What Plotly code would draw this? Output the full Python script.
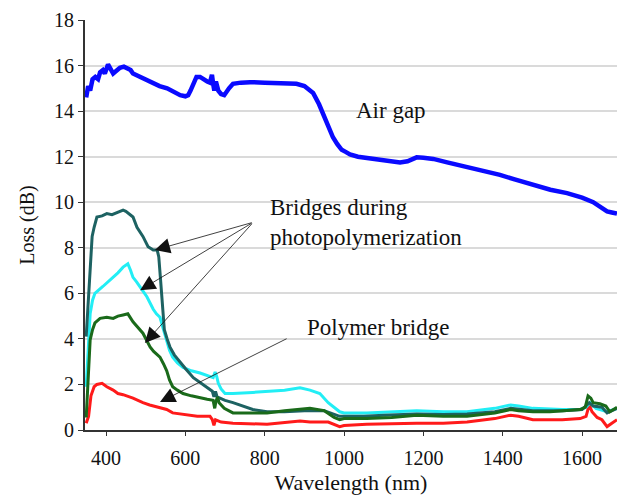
import plotly.graph_objects as go

# ---------------- data ----------------
air_wl = [350, 355, 360, 366, 373, 380, 385, 392, 397, 405, 418, 427, 435, 445, 453, 462, 468, 480, 491, 505,
          519, 535, 554, 570, 587, 600, 607, 613, 619, 628, 637, 648, 655, 662, 667, 670, 673, 677, 683, 690,
          698, 710, 720, 740, 763, 800, 846, 880, 900, 922, 937, 952, 962, 972, 983, 994, 1005, 1015, 1035, 1057,
          1080, 1098, 1120, 1141, 1160, 1183, 1200, 1225, 1260, 1310, 1350, 1393, 1430, 1476, 1520, 1562, 1600,
          1628, 1645, 1663, 1675, 1688]
air_loss = [14.6, 15.1, 14.9, 15.4, 15.5, 15.4, 15.7, 15.8, 15.65, 16.05, 15.65, 15.8, 15.9, 15.95, 15.9, 15.8,
            15.65, 15.55, 15.5, 15.35, 15.25, 15.1, 15.0, 14.85, 14.7, 14.65, 14.7, 14.9, 15.2, 15.5, 15.5, 15.35,
            15.3, 15.25, 15.6, 15.2, 14.9, 15.3, 14.9, 14.75, 14.7, 15.0, 15.2, 15.25, 15.27, 15.25, 15.2, 15.2,
            15.1, 14.8, 14.3, 13.7, 13.3, 12.85, 12.55, 12.3, 12.2, 12.1, 12.0, 11.95, 11.9, 11.85, 11.8, 11.75,
            11.8, 11.97, 11.95, 11.9, 11.75, 11.55, 11.35, 11.2, 11.0, 10.75, 10.55, 10.4, 10.2, 10.0, 9.8, 9.6,
            9.55, 9.5]

b1_wl = [350, 355, 360, 365, 370, 377, 390, 402, 415, 428, 443, 450, 458, 468, 478, 493, 506, 519, 529, 533,
         537, 541, 547, 554, 561, 572, 587, 600, 620, 640, 655, 668, 672, 676, 680, 700, 720, 745, 770, 806,
         850, 900, 950, 989, 1000, 1050, 1100, 1183, 1250, 1310, 1380, 1420, 1476, 1550, 1600, 1618, 1628,
         1650, 1663, 1675, 1688]
b1_loss = [4.1, 5.5, 7.0, 8.5, 8.9, 9.35, 9.4, 9.5, 9.45, 9.55, 9.65, 9.6, 9.5, 9.35, 8.9, 8.5, 8.05, 7.9, 7.9,
           7.6, 6.7, 5.8, 4.4, 4.0, 3.65, 3.3, 2.95, 2.7, 2.3, 2.05, 1.9, 1.7, 1.45, 1.7, 1.45, 1.3, 1.2, 1.05,
           0.9, 0.8, 0.8, 0.85, 0.85, 0.6, 0.6, 0.6, 0.65, 0.7, 0.68, 0.7, 0.8, 0.95, 0.85, 0.85, 0.9, 1.2, 1.05,
           1.0, 0.75, 0.85, 0.95]

b2_wl = [350, 355, 360, 366, 372, 392, 405, 418, 430, 443, 455, 462, 468, 477, 486, 495, 503, 511, 519, 527,
         536, 545, 553, 560, 568, 580, 594, 615, 637, 655, 670, 675, 679, 683, 690, 700, 720, 770, 850, 889,
         914, 939, 960, 989, 1000, 1057, 1120, 1183, 1250, 1310, 1380, 1420, 1440, 1476, 1550, 1595, 1610,
         1620, 1635, 1663, 1688]
b2_loss = [1.9, 3.5, 5.1, 5.7, 6.0, 6.3, 6.5, 6.7, 6.9, 7.15, 7.3, 7.0, 6.7, 6.5, 6.3, 6.05, 5.85, 5.55, 5.3,
           5.1, 4.95, 4.4, 3.95, 3.5, 3.2, 2.95, 2.75, 2.6, 2.5, 2.4, 2.3, 2.55, 2.35, 2.05, 1.8, 1.6, 1.6, 1.65,
           1.75, 1.85, 1.75, 1.6, 1.2, 0.8, 0.75, 0.75, 0.8, 0.85, 0.8, 0.8, 0.95, 1.1, 1.05, 0.95, 0.9, 0.9,
           1.0, 1.2, 0.95, 0.8, 0.95]

b3_wl = [350, 355, 360, 366, 372, 385, 402, 418, 430, 443, 455, 468, 480, 493, 502, 511, 520, 536, 545, 553,
         560, 568, 580, 594, 615, 637, 655, 670, 674, 677, 681, 685, 698, 720, 760, 806, 850, 889, 914, 950,
         975, 989, 1000, 1057, 1120, 1183, 1250, 1310, 1380, 1420, 1440, 1476, 1519, 1595, 1608, 1615, 1622,
         1628, 1645, 1660, 1670, 1688]
b3_loss = [0.55, 2.2, 3.95, 4.4, 4.7, 4.9, 4.95, 4.9, 5.0, 5.05, 5.1, 4.75, 4.5, 4.25, 3.95, 3.65, 3.45, 3.2,
           2.9, 2.6, 2.2, 1.9, 1.75, 1.6, 1.5, 1.4, 1.35, 1.3, 0.95, 1.25, 1.45, 1.2, 0.95, 0.75, 0.75, 0.75,
           0.85, 0.9, 0.95, 0.85, 0.55, 0.45, 0.5, 0.5, 0.55, 0.65, 0.6, 0.6, 0.75, 0.9, 0.85, 0.8, 0.8, 0.9,
           1.0, 1.5, 1.4, 1.2, 1.15, 1.05, 0.8, 1.0]

poly_wl = [350, 356, 362, 370, 377, 390, 402, 418, 430, 443, 468, 493, 510, 529, 553, 568, 590, 604, 630, 662,
           668, 672, 676, 690, 720, 806, 889, 914, 960, 989, 1000, 1057, 1120, 1183, 1250, 1310, 1380, 1420,
           1440, 1476, 1550, 1595, 1610, 1618, 1625, 1638, 1650, 1663, 1675, 1688]
poly_loss = [0.3, 0.6, 1.5, 1.9, 2.0, 2.05, 1.9, 1.75, 1.6, 1.55, 1.4, 1.2, 1.1, 1.0, 0.9, 0.75, 0.7, 0.65, 0.6,
             0.6, 0.45, 0.2, 0.45, 0.35, 0.3, 0.25, 0.4, 0.35, 0.35, 0.15, 0.2, 0.25, 0.28, 0.3, 0.3, 0.35, 0.5,
             0.65, 0.6, 0.45, 0.45, 0.5, 0.6, 1.1, 0.8, 0.55, 0.45, 0.15, 0.3, 0.45]

x_ticks = [400, 600, 800, 1000, 1200, 1400, 1600]
y_ticks = [0, 2, 4, 6, 8, 10, 12, 14, 16, 18]

# annotation anchors (data coords)
bridge_src = (771, 9.12)
bridge_tips = [(523, 7.9), (486, 6.14), (498, 3.82)]
poly_src = (859, 4.04)
poly_tip = (536, 1.23)

# ---------------- figure ----------------
FONT = "Liberation Serif, Times New Roman, serif"
fig = go.Figure()

series = [
    (poly_wl, poly_loss, "#ff1a1a", 3),
    (b2_wl, b2_loss, "#22eef5", 3),
    (b1_wl, b1_loss, "#1d6262", 3),
    (b3_wl, b3_loss, "#1a6a1a", 3),
    (air_wl, air_loss, "#0a0aff", 4.5),
]
for wl, ls, col, w in series:
    fig.add_trace(go.Scatter(x=wl, y=ls, mode="lines",
                             line=dict(color=col, width=w), showlegend=False, hoverinfo="skip"))

anns = []
for tx, ty in bridge_tips + [poly_tip]:
    src = poly_src if (tx, ty) == poly_tip else bridge_src
    anns.append(dict(x=tx, y=ty, ax=src[0], ay=src[1], xref="x", yref="y",
                     axref="x", ayref="y", showarrow=True, arrowhead=2, arrowsize=3.8,
                     arrowwidth=0.8, arrowcolor="#111", text=""))
anns.append(dict(x=1118, y=14.04, xref="x", yref="y", text="Air gap", showarrow=False,
                 font=dict(family=FONT, size=23, color="#111")))
anns.append(dict(x=808, y=9.1, xref="x", yref="y", text="Bridges during<br>photopolymerization",
                 showarrow=False, xanchor="left", align="left",
                 font=dict(family=FONT, size=23, color="#111")))
anns.append(dict(x=902, y=4.52, xref="x", yref="y", text="Polymer bridge", showarrow=False,
                 xanchor="left", font=dict(family=FONT, size=23, color="#111")))

fig.update_layout(
    width=617, height=495,
    margin=dict(l=85, r=0, t=20, b=65),
    paper_bgcolor="white", plot_bgcolor="white",
    font=dict(family=FONT, size=20, color="#111"),
    annotations=anns,
)
fig.update_xaxes(range=[347, 1688], tickvals=x_ticks, ticks="outside", ticklen=4, tickcolor="#333",
                 showline=True, linecolor="#333", linewidth=2, showgrid=False, zeroline=False,
                 ticklabelstandoff=5,
                 title=dict(text="Wavelength (nm)", font=dict(size=22), standoff=9),
                 tickfont=dict(size=20))
fig.update_yaxes(range=[0, 18], tickvals=y_ticks, ticks="outside", ticklen=5, tickcolor="#333",
                 showline=True, linecolor="#333", linewidth=2, showgrid=True, gridcolor="#dadada",
                 gridwidth=1.5, zeroline=False,
                 title=dict(text="Loss (dB)", font=dict(size=20), standoff=14),
                 tickfont=dict(size=20))

fig.write_html("out.html")
